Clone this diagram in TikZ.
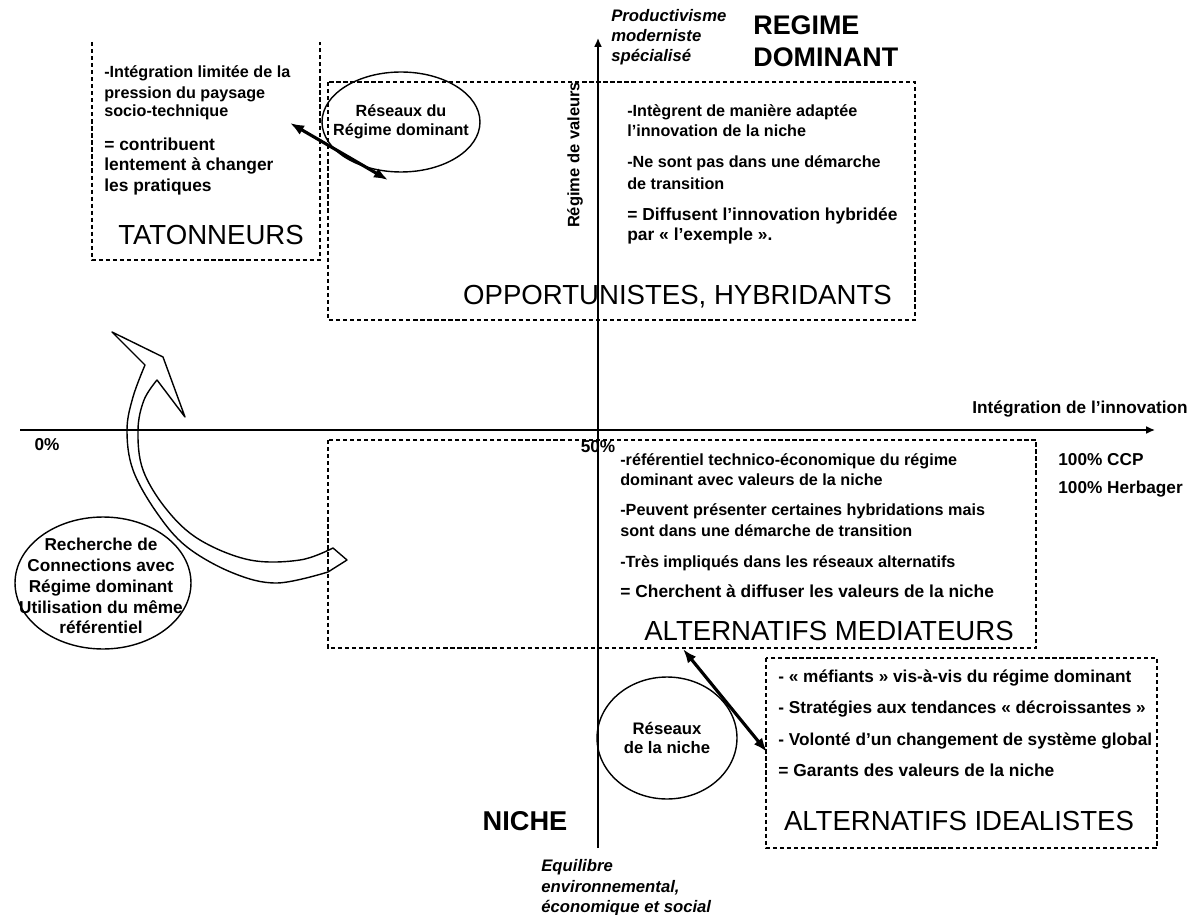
\documentclass[tikz,border=0pt]{standalone}
\usepackage{fontspec}
\setmainfont{Liberation Sans}
\usetikzlibrary{shapes.geometric,arrows.meta}
\tikzset{
  body/.style={font=\bfseries\fontsize{9.2}{11}\selectfont, inner sep=0pt, anchor=base west},
  bodyeq/.style={font=\bfseries\fontsize{9.9}{11}\selectfont, inner sep=0pt, anchor=base west},
  bodyid/.style={font=\bfseries\fontsize{9.8}{11}\selectfont, inner sep=0pt, anchor=base west},
  big/.style={font=\fontsize{15.7}{18}\selectfont, inner sep=0pt, anchor=base},
  bigb/.style={font=\bfseries\fontsize{15.3}{18}\selectfont, inner sep=0pt, anchor=base west},
  ital/.style={font=\bfseries\itshape\fontsize{9.5}{11}\selectfont, inner sep=0pt, anchor=base west},
  dbox/.style={draw, line width=0.6pt, dash pattern=on 2.4pt off 1.6pt},
  axis/.style={draw, line width=0.9pt, -{Latex[length=5pt,width=4.5pt]}},
  dbl/.style={draw, line width=1.8pt, {Latex[length=8pt,width=6pt]}-{Latex[length=8pt,width=6pt]}},
  ell/.style={draw, ellipse, line width=0.8pt, inner sep=0pt},
  ctext/.style={font=\bfseries\fontsize{9.2}{10.8}\selectfont, align=center, inner sep=0pt}
}
\begin{document}
\begin{tikzpicture}[x=0.02cm,y=-0.02cm]
\useasboundingbox (0,0) rectangle (1196,915);
\fill[white] (0,0) rectangle (1196,915);

% axes
\coordinate (xs) at (20,430);
\coordinate (xe) at (1155,430);
\coordinate (ys) at (598,848);
\coordinate (ye) at (598,38);
\draw[axis] (xs) -- (xe);
\draw[axis] (ys) -- (ye);

% dashed boxes
\draw[dbox] (92,42) -- (92,260) -- (320,260) -- (320,42);
\draw[dbox] (328,82) rectangle (915,320);
\draw[dbox] (328,440) rectangle (1036,648);
\draw[dbox] (766,658) rectangle (1157,848);

% TATONNEURS
\node[body] (t1) at (104,78) {-Intégration limitée de la};
\node[body] (t2) at (104,98.5) {pression du paysage};
\node[body] (t3) at (104,117) {socio-technique};
\node[bodyeq] (t4) at (104,150.5) {= contribuent};
\node[bodyeq] (t5) at (104,170.5) {lentement à changer};
\node[bodyeq] (t6) at (104,192) {les pratiques};
\node[big] (tat) at (211,245) {TATONNEURS};

% OPPORTUNISTES
\node[body] (o1) at (627,116.5) {-Intègrent de manière adaptée};
\node[body] (o2) at (627,136.5) {l'innovation de la niche};
\node[body] (o3) at (627,167.5) {-Ne sont pas dans une démarche};
\node[body] (o4) at (627,189.5) {de transition};
\node[bodyeq] (o5) at (627,220.5) {= Diffusent l'innovation hybridée};
\node[bodyeq] (o6) at (627,241) {par « l'exemple ».};
\node[big] (opp) at (677.5,305) {OPPORTUNISTES, HYBRIDANTS};

% REGIME DOMINANT
\node[bigb] (reg1) at (753,35) {REGIME};
\node[bigb] (reg2) at (753,67) {DOMINANT};
\node[ital] (p1) at (611,21.5) {Productivisme};
\node[ital] (p2) at (611,41.5) {moderniste};
\node[ital] (p3) at (611,61.5) {spécialisé};
\node[font=\bfseries\fontsize{9.4}{11}\selectfont, inner sep=0pt, rotate=90] (rv) at (575,155) {Régime de valeurs};

% axis labels
\node[font=\bfseries\fontsize{9.8}{11}\selectfont, inner sep=0pt, anchor=base east] (ii) at (1188,413) {Intégration de l'innovation};
\node[font=\bfseries\fontsize{9.8}{11}\selectfont, inner sep=0pt, anchor=base] (z0) at (47,450) {0\%};
\node[font=\bfseries\fontsize{9.8}{11}\selectfont, inner sep=0pt, anchor=base] (z50) at (598,452) {50\%};
\node[bodyid] (c1) at (1058,465) {100\% CCP};
\node[bodyid] (c2) at (1058,493) {100\% Herbager};

% MEDIATEURS
\node[body] (m1) at (620,465.5) {-référentiel technico-économique du régime};
\node[body] (m2) at (620,485.5) {dominant avec valeurs de la niche};
\node[body] (m3) at (620,515.5) {-Peuvent présenter certaines hybridations mais};
\node[body] (m4) at (620,536.5) {sont dans une démarche de transition};
\node[body] (m5) at (620,567.5) {-Très impliqués dans les réseaux alternatifs};
\node[bodyeq] (m6) at (620,597.5) {= Cherchent à diffuser les valeurs de la niche};
\node[big] (med) at (829,640) {ALTERNATIFS MEDIATEURS};

% IDEALISTES
\node[bodyid] (i1) at (778,682.5) {- « méfiants » vis-à-vis du régime dominant};
\node[bodyid] (i2) at (778,713.5) {- Stratégies aux tendances « décroissantes »};
\node[bodyid] (i3) at (778,745.5) {- Volonté d'un changement de système global};
\node[bodyeq] (i4) at (778,776.5) {= Garants des valeurs de la niche};
\node[big] (ide) at (959,830) {ALTERNATIFS IDEALISTES};

% NICHE
\node[font=\bfseries\fontsize{15.5}{18}\selectfont, inner sep=0pt, anchor=base] (niche) at (525,830) {NICHE};
\node[ital] (e1) at (541,871) {Equilibre};
\node[ital] (e2) at (541,892) {environnemental,};
\node[ital] (e3) at (541,912) {économique et social};

% ellipses
\node[ell, minimum width=3.16cm, minimum height=2cm] (rdn) at (401,122) {};
\node[ctext] (rdnt) at (rdn.center) {Réseaux du\\Régime dominant};
\node[ell, minimum width=2.8cm, minimum height=2.44cm] (rn) at (667,738) {};
\node[ctext, font=\bfseries\fontsize{9.5}{11.3}\selectfont] (rnt) at (rn.center) {Réseaux\\de la niche};
\node[ell, minimum width=3.52cm, minimum height=2.64cm] (rc) at (103,583) {};
\node[ctext, font=\bfseries\fontsize{9.8}{11.9}\selectfont] (rct) at (101,586) {Recherche de\\Connections avec\\Régime dominant\\Utilisation du même\\référentiel};

% double arrows
\coordinate (a1) at (290,123);
\coordinate (a2) at (388,180);
\draw[dbl] (a1) -- (a2);
\coordinate (b1) at (683,649);
\coordinate (b2) at (767,752);
\draw[dbl] (b1) -- (b2);

% curved hollow arrow
\draw[line width=0.8pt, line join=round]
  plot[smooth, tension=0.6] coordinates {(145,365) (133,397) (127,430) (133,470) (157,513) (187,547) (233,573) (277,583) (328,572)}
  -- (347,560) --
  plot[smooth, tension=0.6] coordinates {(333,548) (300,560) (250,560) (200,540) (167,510) (143,470) (138,430) (144,400) (157,380)}
  -- (185,417) -- (163,357) -- (112,332) -- cycle;
\end{tikzpicture}
\end{document}
